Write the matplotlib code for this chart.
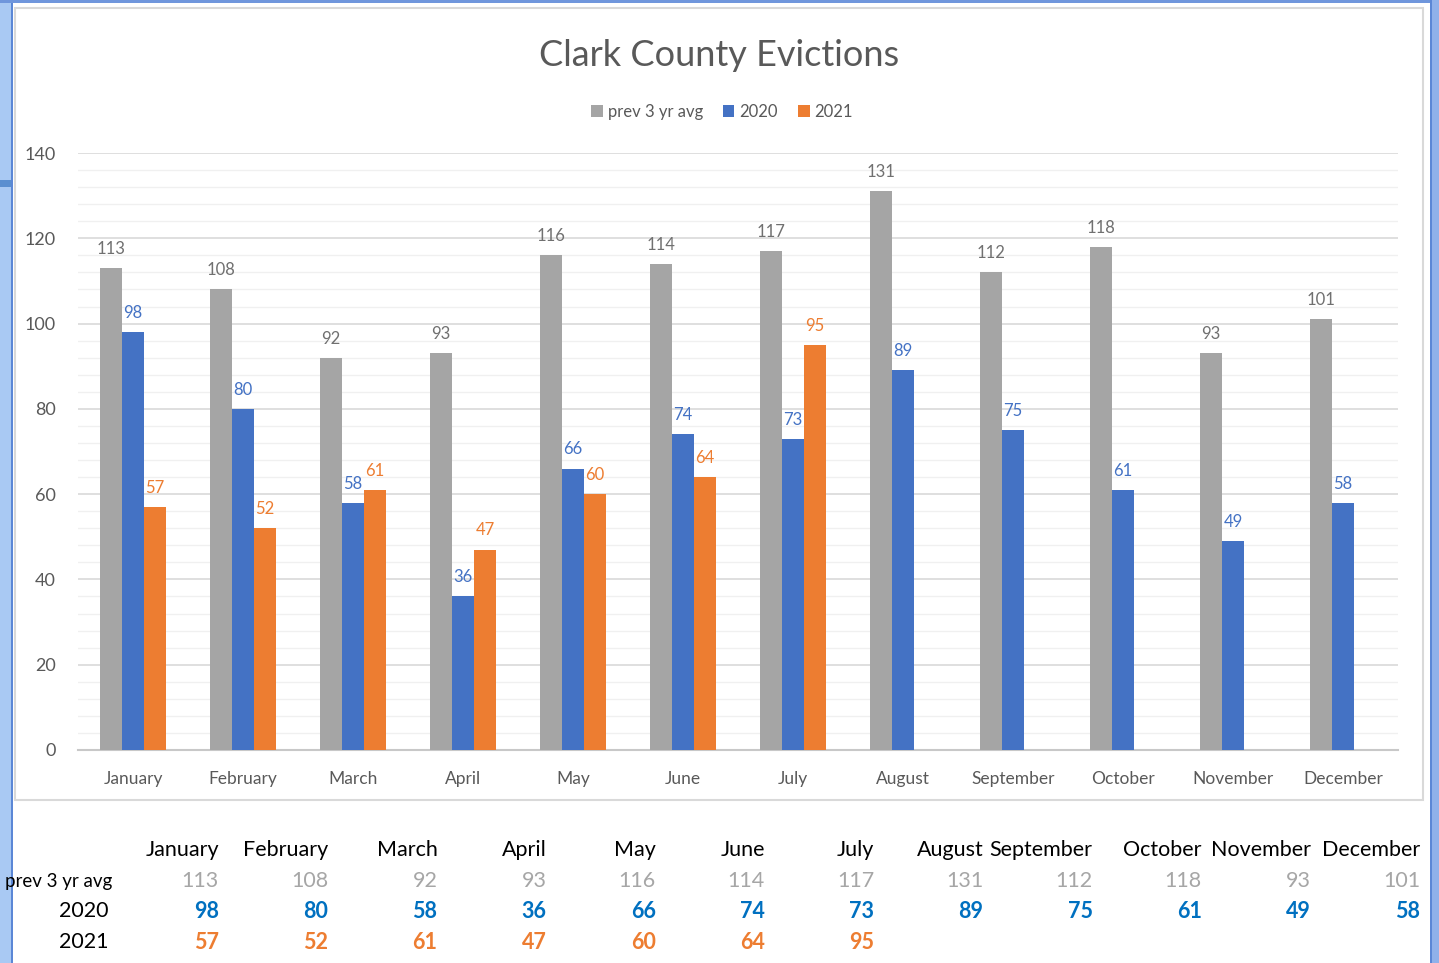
import matplotlib
matplotlib.use("Agg")
from matplotlib import pyplot as plt
from matplotlib.patches import Rectangle
import numpy as np

plt.rcParams['font.family'] = ['Lato', 'DejaVu Sans']

months = ["January", "February", "March", "April", "May", "June", "July",
          "August", "September", "October", "November", "December"]
prev_avg = [113, 108, 92, 93, 116, 114, 117, 131, 112, 118, 93, 101]
y2020 = [98, 80, 58, 36, 66, 74, 73, 89, 75, 61, 49, 58]
y2021 = [57, 52, 61, 47, 60, 64, 95]

c_gray = "#a5a5a5"
c_blue = "#4472c4"
c_orange = "#ed7d31"

W, H = 1439, 963
fig = plt.figure(figsize=(W / 100, H / 100), dpi=100)


def fx(px):
    return px / W


def fy(py):
    return 1 - py / H


def frame_rect(x0, y0, w, h, color, **kw):
    # rectangle given in pixels from the top-left corner
    fig.patches.append(Rectangle((fx(x0), fy(y0 + h)), w / W, h / H,
                                 transform=fig.transFigure, facecolor=color,
                                 zorder=-5, **kw))


# screenshot frame
frame_rect(0, 0, 11, H, "#a9c9f3", edgecolor="none")
frame_rect(11, 0, 2, H, "#5b87d6", edgecolor="none")
frame_rect(0, 180, 11, 7, "#5b8fd0", edgecolor="none")
frame_rect(0, 0, W, 3, "#6f96dc", edgecolor="none")
frame_rect(1432, 0, 7, H, "#8fb1ea", edgecolor="none")
frame_rect(1430, 0, 2, H, "#5b87d6", edgecolor="none")
# chart box
frame_rect(15, 8, 1408, 792, "white", edgecolor="#d9d9d9", linewidth=1.5)

ax = fig.add_axes([fx(78), fy(750), fx(1398) - fx(78), fy(153) - fy(750)])
ax.set_facecolor("none")
ax.set_zorder(2)

x = np.arange(len(months))
bw = 0.2
b1 = ax.bar(x - bw, prev_avg, bw, color=c_gray, label="prev 3 yr avg", zorder=3)
b2 = ax.bar(x, y2020, bw, color=c_blue, label="2020", zorder=3)
b3 = ax.bar(np.arange(len(y2021)) + bw, y2021, bw, color=c_orange, label="2021", zorder=3)
ax.bar_label(b1, padding=8, color="#707070", fontsize=12)
ax.bar_label(b2, padding=8, color=c_blue, fontsize=12)
ax.bar_label(b3, padding=8, color=c_orange, fontsize=12)

ax.set_xlim(-0.5, 11.5)
ax.set_ylim(0, 140)
ax.set_yticks(np.arange(0, 141, 20))
ax.set_yticks(np.arange(0, 141, 4), minor=True)
ax.grid(axis="y", which="major", color="#d9d9d9", linewidth=1.2, zorder=0)
ax.grid(axis="y", which="minor", color="#f0f0f0", linewidth=1.0, zorder=0)
ax.set_xticks(x)
ax.set_xticklabels(months)
ax.tick_params(axis="both", which="both", length=0, labelsize=12.5, labelcolor="#595959")
ax.tick_params(axis="x", pad=15)
ax.tick_params(axis="y", labelsize=13, pad=16)
for s in ["left", "right", "top"]:
    ax.spines[s].set_visible(False)
ax.spines["bottom"].set_color("#c8c8c8")
ax.spines["bottom"].set_linewidth(1.5)

fig.text(0.5, fy(55), "Clark County Evictions", ha="center", va="center",
         fontsize=26, color="#595959")
fig.legend(handles=[b1, b2, b3], loc="center", bbox_to_anchor=(fx(722), fy(112)),
           ncol=3, frameon=False, fontsize=12, labelcolor="#595959",
           handlelength=0.7, handleheight=0.7, handletextpad=0.3, columnspacing=1.2)

# data table beneath the chart
col_right = [219 + 109.2 * i for i in range(12)]
for i, m in enumerate(months):
    fig.text(fx(col_right[i]), fy(850), m, ha="right", va="center", fontsize=15.5, color="black")
    fig.text(fx(col_right[i]), fy(881), str(prev_avg[i]), ha="right", va="center",
             fontsize=15.5, color="#a6a6a6")
    fig.text(fx(col_right[i]), fy(911), str(y2020[i]), ha="right", va="center",
             fontsize=15.5, color="#0070c0", fontweight="bold")
for i, v in enumerate(y2021):
    fig.text(fx(col_right[i]), fy(942), str(v), ha="right", va="center",
             fontsize=15.5, color=c_orange, fontweight="bold")
fig.text(fx(112), fy(881), "prev 3 yr avg", ha="right", va="center", fontsize=13.5, color="black")
fig.text(fx(109), fy(911), "2020", ha="right", va="center", fontsize=15.5, color="black")
fig.text(fx(109), fy(942), "2021", ha="right", va="center", fontsize=15.5, color="black")

fig.savefig("out.png", dpi=100)
